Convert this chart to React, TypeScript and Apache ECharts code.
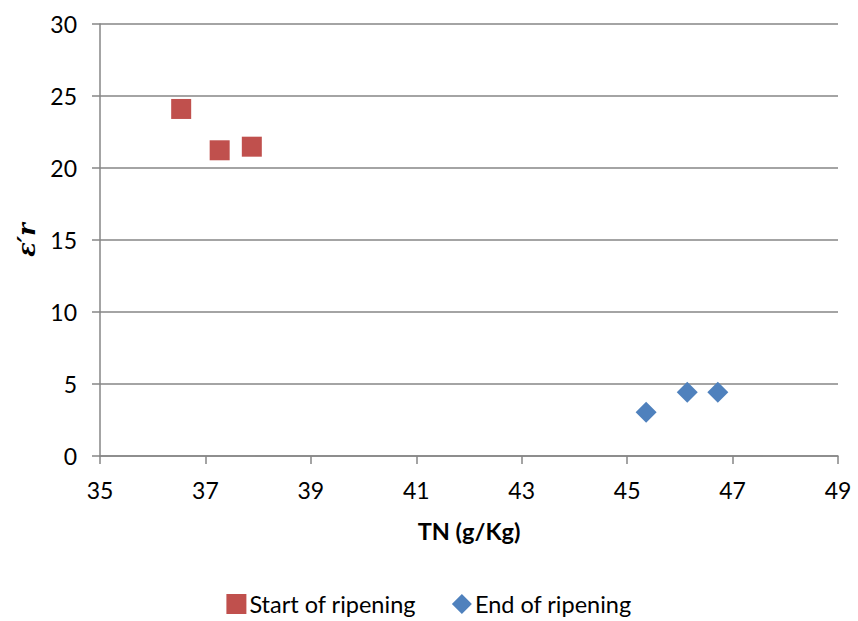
import React, { useEffect, useRef } from "react";
import * as echarts from "echarts";

const startTN = [36.54, 37.27, 37.88];
const startEr = [24.1, 21.23, 21.48];
const endTN = [45.36, 46.14, 46.72];
const endEr = [3.03, 4.42, 4.42];
const seriesNames = ["Start of ripening", "End of ripening"];

const FONT = "Lato, 'Open Sans', sans-serif";

export default function App() {
  const ref = useRef<HTMLDivElement>(null);
  useEffect(() => {
    if (!ref.current) return;
    const chart = echarts.init(ref.current, undefined, { renderer: "svg" });
    chart.setOption({
      animation: false,
      textStyle: { fontFamily: FONT },
      grid: { left: 100, right: 20, top: 24, bottom: 165, containLabel: false },
      legend: {
        top: 587,
        left: "center",
        itemGap: 36,
        itemWidth: 20,
        itemHeight: 20,
        textStyle: { fontSize: 23.5, color: "#000", fontFamily: FONT, padding: [0, 0, 0, -2] },
        data: [
          { name: seriesNames[0], icon: "rect" },
          { name: seriesNames[1], icon: "diamond" },
        ],
      },
      xAxis: {
        type: "value",
        min: 35,
        max: 49,
        interval: 2,
        name: "TN (g/Kg)",
        nameLocation: "middle",
        nameGap: 63,
        nameTextStyle: { fontSize: 23.5, fontWeight: "bold", color: "#000", fontFamily: FONT },
        axisLine: { show: true, lineStyle: { color: "#868686", width: 1.5 } },
        axisTick: { show: true, inside: false, length: 8, lineStyle: { color: "#868686", width: 1.5 } },
        axisLabel: { fontSize: 23, color: "#000", margin: 22, fontFamily: FONT },
        splitLine: { show: false },
      },
      yAxis: {
        type: "value",
        min: 0,
        max: 30,
        interval: 5,
        name: "ε′r",
        nameLocation: "middle",
        nameRotate: 90,
        nameGap: 62,
        nameTextStyle: { fontSize: 24, fontWeight: "bold", fontStyle: "italic", color: "#000", fontFamily: "'DejaVu Serif', serif" },
        axisLine: { show: true, lineStyle: { color: "#868686", width: 1.5 } },
        axisTick: { show: true, inside: false, length: 8, lineStyle: { color: "#868686", width: 1.5 } },
        axisLabel: { fontSize: 23, color: "#000", margin: 23, fontFamily: FONT },
        splitLine: { show: true, lineStyle: { color: "#868686", width: 1.5 } },
      },
      series: [
        {
          name: seriesNames[0],
          type: "scatter",
          symbol: "rect",
          symbolSize: 20,
          itemStyle: { color: "#C0504D", opacity: 1 },
          data: startTN.map((x, i) => [x, startEr[i]]),
        },
        {
          name: seriesNames[1],
          type: "scatter",
          symbol: "diamond",
          symbolSize: [21, 21],
          itemStyle: { color: "#4F81BD", opacity: 1 },
          data: endTN.map((x, i) => [x, endEr[i]]),
        },
      ],
    });
    return () => chart.dispose();
  }, []);
  return <div ref={ref} style={{ width: 858, height: 621, position: "absolute", left: 0, top: 0 }} />;
}
